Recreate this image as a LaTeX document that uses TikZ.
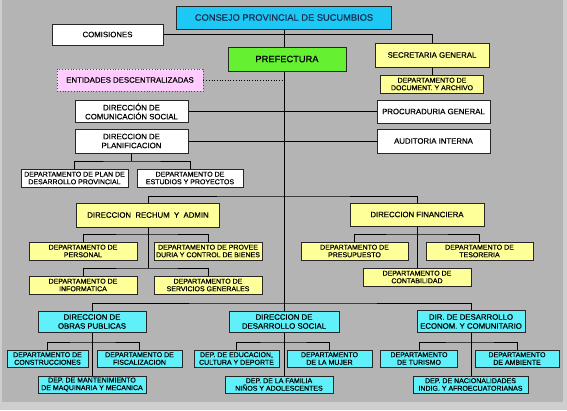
\documentclass[tikz,border=0pt]{standalone}
\usepackage{fontspec}
\setmainfont{Liberation Sans}
\newfontfamily\orgfont[FakeBold=0.5]{Liberation Sans}
\usetikzlibrary{backgrounds}

\definecolor{framegray}{RGB}{206,206,206}
\definecolor{backgray}{RGB}{180,180,180}
\definecolor{topcyan}{RGB}{30,200,245}
\definecolor{prefgreen}{RGB}{102,240,50}
\definecolor{entpink}{RGB}{255,204,255}
\definecolor{unityellow}{RGB}{255,255,153}
\definecolor{lowcyan}{RGB}{95,240,250}
\definecolor{navytext}{RGB}{25,45,80}

\begin{document}
\begin{tikzpicture}
[
	x=1pt, y=-1pt,
	unit/.style={draw=black!85,line width=0.8pt,inner sep=1pt,align=center,font=\orgfont\fontsize{7}{7.6}\selectfont},
	dirunit/.style={unit,font=\orgfont\fontsize{7.8}{9}\selectfont},
	bigunit/.style={unit,font=\orgfont\fontsize{9.3}{10}\selectfont},
	sz/.style 2 args={minimum width=#1pt,minimum height=#2pt},
	link/.style={line width=0.7pt,black}
]
	\useasboundingbox (0,0) rectangle (567,410);

	% top level
	\node[bigunit,fill=topcyan,text=navytext,sz={215}{23}] (consejo) at (284,17.5) {CONSEJO PROVINCIAL DE SUCUMBIOS};
	\node[dirunit,fill=white,sz={111}{21}] (comisiones) at (107.5,34.5) {COMISIONES};
	\node[bigunit,fill=prefgreen,sz={118}{24}] (prefectura) at (287,59) {PREFECTURA};
	\node[dirunit,fill=entpink,draw=black!70,dotted,sz={146}{22}] (entidades) at (130,80) {ENTIDADES DESCENTRALIZADAS};

	% staff units
	\node[dirunit,fill=unityellow,sz={114}{24}] (secretaria) at (432,55) {SECRETARIA GENERAL};
	\node[unit,fill=unityellow,sz={103}{18}] (docarchivo) at (432,84) {DEPARTAMENTO DE\\DOCUMENT. Y ARCHIVO};
	\node[dirunit,fill=white,sz={113}{22}] (comsocial) at (131.5,111.5) {DIRECCIÓN DE\\COMUNICACIÓN SOCIAL};
	\node[dirunit,fill=white,sz={113}{23}] (procuraduria) at (433.5,111.5) {PROCURADURIA GENERAL};
	\node[dirunit,fill=white,sz={113}{24}] (planificacion) at (131.5,141) {DIRECCION DE\\PLANIFICACION};
	\node[dirunit,fill=white,sz={113}{24}] (auditoria) at (433.5,141) {AUDITORIA INTERNA};
	\node[unit,fill=white,sz={107}{18}] (planprov) at (74.5,178) {DEPARTAMENTO DE PLAN DE\\DESARROLLO PROVINCIAL};
	\node[unit,fill=white,sz={106}{18}] (estudios) at (190,178) {DEPARTAMENTO DE\\ESTUDIOS Y PROYECTOS};

	% support units
	\node[dirunit,fill=unityellow,sz={143}{24}] (rechum) at (148,215) {DIRECCION\ \ RECHUM\ \ Y\ \ ADMIN};
	\node[dirunit,fill=unityellow,sz={134}{23}] (financiera) at (417,214.5) {DIRECCION FINANCIERA};
	\node[unit,fill=unityellow,sz={108}{18}] (personal) at (83,251) {DEPARTAMENTO DE\\PERSONAL};
	\node[unit,fill=unityellow,sz={108}{18}] (proveeduria) at (208,251) {DEPARTAMENTO DE PROVEE\\DURIA Y CONTROL DE BIENES};
	\node[unit,fill=unityellow,sz={108}{18}] (informatica) at (83,285) {DEPARTAMENTO DE\\INFORMATICA};
	\node[unit,fill=unityellow,sz={108}{18}] (servicios) at (208,285) {DEPARTAMENTO DE\\SERVICIOS GENERALES};
	\node[unit,fill=unityellow,sz={107}{18}] (presupuesto) at (354.5,251) {DEPARTAMENTO DE\\PRESUPUESTO};
	\node[unit,fill=unityellow,sz={107}{18}] (tesoreria) at (479.5,251) {DEPARTAMENTO DE\\TESORERIA};
	\node[unit,fill=unityellow,sz={108}{18}] (contabilidad) at (417,277) {DEPARTAMENTO DE\\CONTABILIDAD};

	% operative units
	\node[dirunit,fill=lowcyan,sz={108}{21}] (obras) at (92,321.5) {DIRECCION DE\\OBRAS PUBLICAS};
	\node[dirunit,fill=lowcyan,sz={110}{21}] (dessocial) at (284,321.5) {DIRECCION DE\\DESARROLLO SOCIAL};
	\node[dirunit,fill=lowcyan,sz={108}{22}] (economico) at (471,321.5) {DIR. DE DESARROLLO\\ECONOM. Y COMUNITARIO};
	\node[unit,fill=lowcyan,sz={81}{17}] (construcciones) at (47.5,358.5) {DEPARTAMENTO DE\\CONSTRUCCIONES};
	\node[unit,fill=lowcyan,sz={85}{17}] (fiscalizacion) at (139.5,358.5) {DEPARTAMENTO DE\\FISCALIZACION};
	\node[unit,fill=lowcyan,sz={108}{17}] (mantenimiento) at (92,384.5) {DEP. DE MANTENIMIENTO\\DE MAQUINARIA Y MECANICA};
	\node[unit,fill=lowcyan,sz={85}{17}] (educacion) at (236.5,358.5) {DEP. DE EDUCACION,\\CULTURA Y DEPORTE};
	\node[unit,fill=lowcyan,sz={85}{17}] (mujer) at (329.5,358.5) {DEPARTAMENTO\\DE LA MUJER};
	\node[unit,fill=lowcyan,sz={108}{17}] (familia) at (279,384.5) {DEP. DE LA FAMILIA\\NIÑOS Y ADOLESCENTES};
	\node[unit,fill=lowcyan,sz={77}{17}] (turismo) at (419,358.5) {DEPARTAMENTO\\DE TURISMO};
	\node[unit,fill=lowcyan,sz={84}{17}] (ambiente) at (517,358.5) {DEPARTAMENTO\\DE AMBIENTE};
	\node[unit,fill=lowcyan,sz={115}{17}] (nacionalidades) at (470.5,384.5) {DEP. DE NACIONALIDADES\\INDIG. Y AFROECUATORIANAS};

	% junctions
	\coordinate (planjoint) at (131.5,161);
	\coordinate (rowsupport) at (284,196);
	\coordinate (rechtop) at (148,234);
	\coordinate (rechbot) at (148,268);
	\coordinate (finjoint) at (417,234);
	\coordinate (bus) at (284,303);
	\coordinate (obrajoint) at (92,342);
	\coordinate (socjoint) at (284,342);
	\coordinate (econjoint) at (471,342);

	\begin{scope}[on background layer]
	% backdrop
	\fill[framegray] (0,0) rectangle (567,410);
	\fill[backgray] (2,0) rectangle (563,402);

	% trunk and staff lines
	\draw[link] (consejo.south) -- (dessocial.north);
	\draw[link] (comisiones.east) -| (secretaria.north);
	\draw[link] (secretaria.south) -- (docarchivo.north);
	\draw[link,dotted] (entidades.east) -- (entidades.east -| consejo.south);
	\draw[link] (comsocial.east) -- (procuraduria.west);
	\draw[link] (planificacion.east) -- (auditoria.west);
	\draw[link] (planificacion.south) -- (planjoint);
	\draw[link] (planprov.north) |- (planjoint) -| (estudios.north);

	% support branches
	\draw[link] (rechum.north) |- (rowsupport) -| (financiera.north);
	\draw[link] (rechum.south) -- (rechbot);
	\draw[link] (personal.north) |- (rechtop) -| (proveeduria.north);
	\draw[link] (informatica.north) |- (rechbot) -| (servicios.north);
	\draw[link] (financiera.south) -- (contabilidad.north);
	\draw[link] (presupuesto.north) |- (finjoint) -| (tesoreria.north);

	% operative branches
	\draw[link] (obras.north) |- (bus) -| (economico.north);
	\draw[link] (obras.south) -- (mantenimiento.north);
	\draw[link] (construcciones.north) |- (obrajoint) -| (fiscalizacion.north);
	\draw[link] (dessocial.south) -- (dessocial.south |- familia.north);
	\draw[link] (educacion.north) |- (socjoint) -| (mujer.north);
	\draw[link] (economico.south) -- (economico.south |- nacionalidades.north);
	\draw[link] (turismo.north) |- (econjoint) -| (ambiente.north);
	\end{scope}

\end{tikzpicture}
\end{document}
